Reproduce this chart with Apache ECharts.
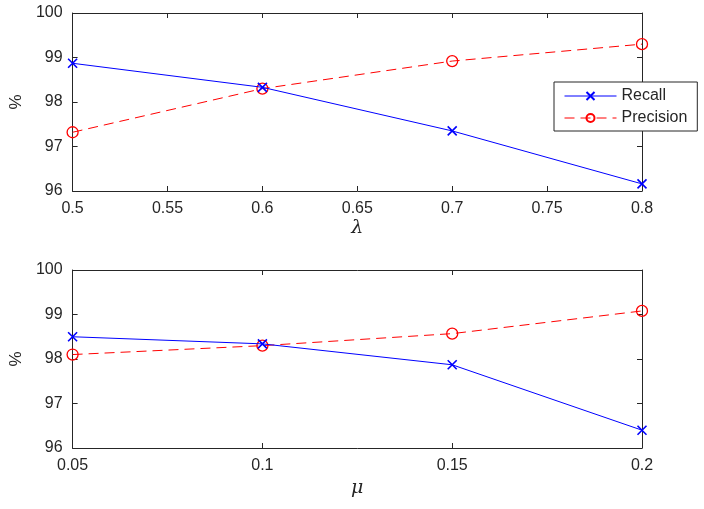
<!DOCTYPE html>
<html>
<head>
<meta charset="utf-8">
<script src="https://cdn.jsdelivr.net/npm/echarts@6/dist/echarts.min.js"></script>
<style>
  html, body { margin: 0; padding: 0; background: #fff; }
  #chart { width: 704px; height: 509px; }
</style>
</head>
<body>
<div id="chart"></div>
<script>
// data
const lambdaVals = [0.5, 0.6, 0.7, 0.8]
const recallLambda = [98.87, 98.33, 97.35, 96.16]
const precisionLambda = [97.32, 98.3, 98.92, 99.3]

const muVals = [0.05, 0.1, 0.15, 0.2]
const recallMu = [98.5, 98.34, 97.87, 96.4]
const precisionMu = [98.1, 98.3, 98.57, 99.08]

const txt = '#262626'
const crossPath = 'path://M0,0L10,10M10,0L0,10'

const tickLabel = { color: txt, fontSize: 16, fontFamily: 'Liberation Sans, Arial, sans-serif' }

function xAxes(grid, min, max, interval, name, gap, fmt) {
  return [
    {
      gridIndex: grid, type: 'value', min, max, interval, position: 'bottom',
      name, nameLocation: 'middle', nameGap: gap,
      nameTextStyle: { color: txt, fontSize: 19, fontStyle: 'italic', fontFamily: 'DejaVu Serif, serif' },
      axisLine: { lineStyle: { color: txt } },
      axisTick: { inside: true, length: 5, lineStyle: { color: txt } },
      axisLabel: Object.assign({ margin: 10, formatter: fmt }, tickLabel),
      splitLine: { show: false }
    },
    {
      gridIndex: grid, type: 'value', min, max, interval, position: 'top',
      axisLine: { lineStyle: { color: txt } },
      axisTick: { inside: true, length: 5, lineStyle: { color: txt } },
      axisLabel: { show: false },
      splitLine: { show: false }
    }
  ]
}

function yAxes(grid) {
  return [
    {
      gridIndex: grid, type: 'value', min: 96, max: 100, interval: 1, position: 'left',
      name: '%', nameLocation: 'middle', nameGap: 46, nameRotate: 90,
      nameTextStyle: { color: txt, fontSize: 17, fontFamily: 'Liberation Sans, Arial, sans-serif' },
      axisLine: { show: true, lineStyle: { color: txt } },
      axisTick: { show: true, inside: true, length: 5, lineStyle: { color: txt } },
      axisLabel: Object.assign({ margin: 10 }, tickLabel),
      splitLine: { show: false }
    },
    {
      gridIndex: grid, type: 'value', min: 96, max: 100, interval: 1, position: 'right',
      axisLine: { show: true, lineStyle: { color: txt } },
      axisTick: { show: true, inside: true, length: 5, lineStyle: { color: txt } },
      axisLabel: { show: false },
      splitLine: { show: false }
    }
  ]
}

function recallSeries(xi, yi, xs, ys) {
  return {
    name: 'Recall', type: 'line', xAxisIndex: xi, yAxisIndex: yi,
    data: xs.map((x, i) => [x, ys[i]]),
    symbol: crossPath, symbolSize: 9, symbolKeepAspect: true,
    lineStyle: { color: '#0000ff', width: 1 },
    itemStyle: { color: '#0000ff', borderColor: '#0000ff', borderWidth: 1.6 },
    z: 3, animation: false
  }
}

function precisionSeries(xi, yi, xs, ys) {
  return {
    name: 'Precision', type: 'line', xAxisIndex: xi, yAxisIndex: yi,
    data: xs.map((x, i) => [x, ys[i]]),
    symbol: 'circle', symbolSize: 11,
    lineStyle: { color: '#ff0000', width: 1, type: [10, 6] },
    itemStyle: { color: 'rgba(255,255,255,0)', borderColor: '#ff0000', borderWidth: 1.3 },
    z: 2, animation: false
  }
}

const chart = echarts.init(document.getElementById('chart'))
const trim = v => String(+v.toFixed(2))

chart.setOption({
  backgroundColor: '#fff',
  animation: false,
  grid: [
    { left: 71, top: 13, width: 571, height: 178 },
    { left: 71, top: 270, width: 571, height: 178 }
  ],
  legend: {
    data: ['Recall', 'Precision'],
    orient: 'vertical', left: 554, top: 82,
    itemWidth: 52, itemHeight: 10, itemGap: 6,
    padding: [6, 10, 5, 10],
    borderColor: txt, borderWidth: 1, borderRadius: 0,
    backgroundColor: '#fff',
    lineStyle: { width: 1 },
    textStyle: { color: txt, fontSize: 16, fontFamily: 'Liberation Sans, Arial, sans-serif' }
  },
  xAxis: [
    ...xAxes(0, 0.5, 0.8, 0.05, 'λ', 28, trim),
    ...xAxes(1, 0.05, 0.2, 0.05, 'μ', 31, trim)
  ],
  yAxis: [...yAxes(0), ...yAxes(1)],
  series: [
    recallSeries(0, 0, lambdaVals, recallLambda),
    precisionSeries(0, 0, lambdaVals, precisionLambda),
    recallSeries(2, 2, muVals, recallMu),
    precisionSeries(2, 2, muVals, precisionMu)
  ]
})
</script>
</body>
</html>
